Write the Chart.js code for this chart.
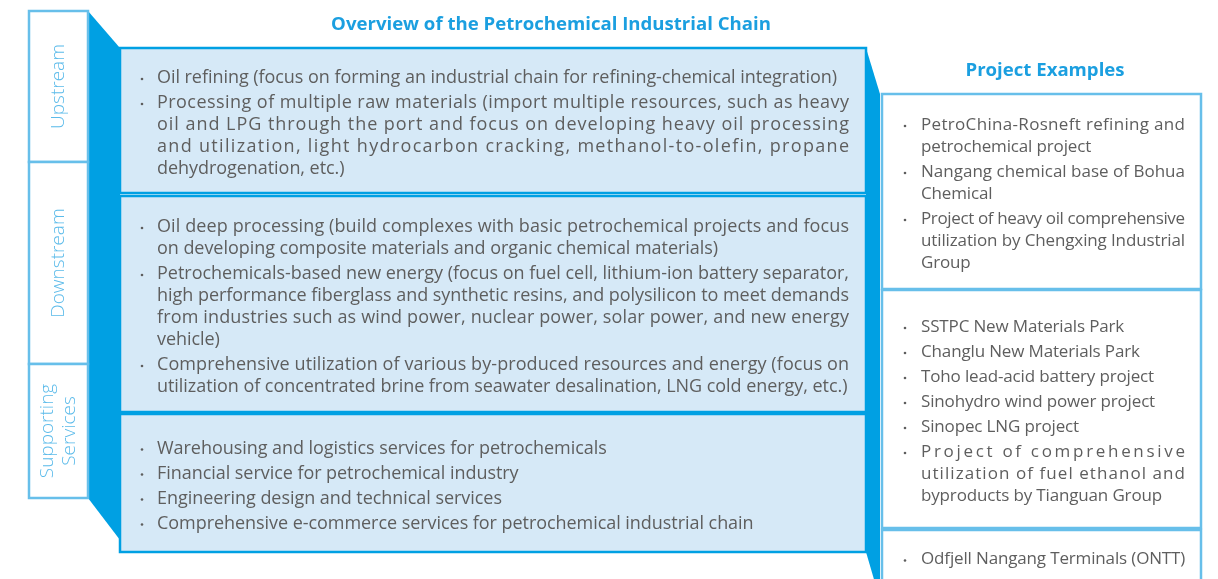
<!DOCTYPE html>
<html>
<head>
<meta charset="utf-8">
<script src="https://cdn.jsdelivr.net/npm/chart.js@4/dist/chart.umd.min.js"></script>
<style>
  html, body { margin: 0; padding: 0; background: #fff; }
  #chainChart { display: block; }
</style>
</head>
<body>
<canvas id="chainChart" width="1218" height="579"></canvas>
<script>
// text content of the diagram
const mainTitle = 'Overview of the Petrochemical Industrial Chain';
const projectTitle = 'Project Examples';

const stageLabels = [['Upstream'], ['Downstream'], ['Supporting', 'Services']];

const upstreamItems = [
    ['Oil refining (focus on forming an industrial chain for refining-chemical integration)'],
    ['Processing of multiple raw materials (import multiple resources, such as heavy',
     'oil and LPG through the port and focus on developing heavy oil processing',
     'and utilization, light hydrocarbon cracking, methanol-to-olefin, propane',
     'dehydrogenation, etc.)']
];
const downstreamItems = [
    ['Oil deep processing (build complexes with basic petrochemical projects and focus',
     'on developing composite materials and organic chemical materials)'],
    ['Petrochemicals-based new energy (focus on fuel cell, lithium-ion battery separator,',
     'high performance fiberglass and synthetic resins, and polysilicon to meet demands',
     'from industries such as wind power, nuclear power, solar power, and new energy',
     'vehicle)'],
    ['Comprehensive utilization of various by-produced resources and energy (focus on',
     'utilization of concentrated brine from seawater desalination, LNG cold energy, etc.)']
];
const supportingItems = [
    ['Warehousing and logistics services for petrochemicals'],
    ['Financial service for petrochemical industry'],
    ['Engineering design and technical services'],
    ['Comprehensive e-commerce services for petrochemical industrial chain']
];

const upstreamProjects = [
    ['PetroChina-Rosneft refining and', 'petrochemical project'],
    ['Nangang chemical base of Bohua', 'Chemical'],
    ['Project of heavy oil comprehensive', 'utilization by Chengxing Industrial', 'Group']
];
const downstreamProjects = [
    ['SSTPC New Materials Park'],
    ['Changlu New Materials Park'],
    ['Toho lead-acid battery project'],
    ['Sinohydro wind power project'],
    ['Sinopec LNG project'],
    ['Project of comprehensive', 'utilization of fuel ethanol and', 'byproducts by Tianguan Group']
];
const supportingProjects = [
    ['Odfjell Nangang Terminals (ONTT)']
];

// layout (in axis units, the axes span the canvas 0..1218 x 0..579)
const layout = {
    labelX: [29, 88],
    mainX: [120, 866],
    projX: [882, 1201],
    rows: [[11, 162, 48, 193, 94, 289],
           [162, 364, 196, 412, 290, 528],
           [364, 498, 414, 552, 530, 588]],
    bandEnd: 540
};

const COL_DARK = '#00a0e3';
const COL_LIGHT = '#67bfea';
const COL_FILL = '#d6e9f7';
const COL_TEXT = '#5e5e5e';
const COL_TITLE = '#1b9fe0';
const FONT = '"Open Sans", "Noto Sans", sans-serif';

function drawLine(ctx, text, x, y, targetW, justify, baseSpacing) {
    ctx.letterSpacing = baseSpacing + 'px';
    if (justify) {
        ctx.letterSpacing = '0px';
        const w0 = ctx.measureText(text).width;
        const ls = (targetW - w0) / (text.length - 1);
        ctx.letterSpacing = ls + 'px';
    }
    ctx.fillText(text, x, y);
    ctx.letterSpacing = '0px';
}

function drawItems(ctx, sx, sy, items, box, opts) {
    const lineH = 22, gap = 3;
    let total = 0;
    items.forEach((it, i) => { total += (it.length - 1) * lineH + (i > 0 ? lineH + gap : 0); });
    let y = (box[0] + box[1]) / 2 - total / 2 + opts.shift;
    ctx.font = opts.size + 'px ' + FONT;
    ctx.fillStyle = COL_TEXT;
    ctx.textAlign = 'left';
    ctx.textBaseline = 'middle';
    items.forEach((it, i) => {
        if (i > 0) y += lineH + gap;
        ctx.beginPath();
        ctx.arc(sx(opts.bulletX), sy(y) + 1, 1.3, 0, Math.PI * 2);
        ctx.fill();
        it.forEach((line, j) => {
            if (j > 0) y += lineH;
            const x0 = sx(opts.textX);
            drawLine(ctx, line, x0, sy(y), sx(opts.textRight) - x0, j < it.length - 1, opts.spacing);
        });
    });
}

const diagramPlugin = {
    id: 'diagram',
    afterDraw(chart) {
        const ctx = chart.ctx;
        const sx = v => chart.scales.x.getPixelForValue(v);
        const sy = v => chart.scales.y.getPixelForValue(v);
        const L = layout;
        ctx.save();

        // dark band between labels and main boxes
        ctx.fillStyle = COL_DARK;
        ctx.beginPath();
        ctx.moveTo(sx(L.labelX[1]), sy(L.rows[0][0]));
        ctx.lineTo(sx(L.mainX[0]), sy(L.rows[0][2]));
        ctx.lineTo(sx(L.mainX[0]), sy(L.bandEnd));
        ctx.lineTo(sx(L.labelX[1]), sy(L.rows[2][1]));
        ctx.closePath();
        ctx.fill();

        // dark band between main boxes and project boxes
        ctx.beginPath();
        ctx.moveTo(sx(L.mainX[1]), sy(L.rows[0][2]));
        ctx.lineTo(sx(L.projX[0] - 2), sy(L.rows[0][4]));
        ctx.lineTo(sx(L.projX[0] - 2), sy(600));
        ctx.lineTo(sx(L.mainX[1]), sy(L.rows[2][3]));
        ctx.closePath();
        ctx.fill();

        const mainItems = [upstreamItems, downstreamItems, supportingItems];
        const projItems = [upstreamProjects, downstreamProjects, supportingProjects];

        L.rows.forEach((r, i) => {
            // stage label box
            ctx.fillStyle = '#fff';
            ctx.strokeStyle = COL_LIGHT;
            ctx.lineWidth = 2.5;
            ctx.fillRect(sx(L.labelX[0]), sy(r[0]), sx(L.labelX[1]) - sx(L.labelX[0]), sy(r[1]) - sy(r[0]));
            ctx.strokeRect(sx(L.labelX[0]), sy(r[0]), sx(L.labelX[1]) - sx(L.labelX[0]), sy(r[1]) - sy(r[0]));

            // main box
            ctx.fillStyle = COL_FILL;
            ctx.strokeStyle = COL_DARK;
            ctx.lineWidth = 2.5;
            ctx.fillRect(sx(L.mainX[0]), sy(r[2]), sx(L.mainX[1]) - sx(L.mainX[0]), sy(r[3]) - sy(r[2]));
            ctx.strokeRect(sx(L.mainX[0]), sy(r[2]), sx(L.mainX[1]) - sx(L.mainX[0]), sy(r[3]) - sy(r[2]));

            // project box
            ctx.fillStyle = '#fff';
            ctx.strokeStyle = COL_LIGHT;
            ctx.fillRect(sx(L.projX[0]), sy(r[4]), sx(L.projX[1]) - sx(L.projX[0]), sy(r[5]) - sy(r[4]));
            ctx.strokeRect(sx(L.projX[0]), sy(r[4]), sx(L.projX[1]) - sx(L.projX[0]), sy(r[5]) - sy(r[4]));

            // rotated stage label
            const lbl = stageLabels[i];
            ctx.save();
            ctx.translate(sx((L.labelX[0] + L.labelX[1]) / 2), sy((r[0] + r[1]) / 2));
            ctx.rotate(-Math.PI / 2);
            ctx.font = '300 19px ' + FONT;
            ctx.fillStyle = '#5cbbea';
            ctx.textAlign = 'center';
            ctx.textBaseline = 'middle';
            lbl.forEach((t, k) => ctx.fillText(t, 0, (k - (lbl.length - 1) / 2) * 22));
            ctx.restore();

            drawItems(ctx, sx, sy, mainItems[i], [r[2], r[3]],
                { size: 18, bulletX: 142, textX: 157, textRight: 849, spacing: -0.05, shift: 3 });
            const projBox = i === 2 ? [r[4], 584] : [r[4], r[5]];
            drawItems(ctx, sx, sy, projItems[i], projBox,
                { size: 17, bulletX: 905, textX: 921, textRight: 1185, spacing: -0.15, shift: 2.5 });
        });

        // titles
        ctx.fillStyle = COL_TITLE;
        ctx.font = 'bold 18.6px ' + FONT;
        ctx.textAlign = 'center';
        ctx.textBaseline = 'middle';
        ctx.fillText(mainTitle, sx(551), sy(25));
        ctx.fillText(projectTitle, sx(1045), sy(71));

        ctx.restore();
    }
};

new Chart(document.getElementById('chainChart').getContext('2d'), {
    type: 'scatter',
    data: { datasets: [] },
    options: {
        responsive: false,
        animation: false,
        events: [],
        layout: { padding: 0 },
        plugins: { legend: { display: false }, tooltip: { enabled: false } },
        scales: {
            x: { type: 'linear', min: 0, max: 1218, display: false },
            y: { type: 'linear', min: 0, max: 579, reverse: true, display: false }
        }
    },
    plugins: [diagramPlugin]
});
</script>
</body>
</html>
